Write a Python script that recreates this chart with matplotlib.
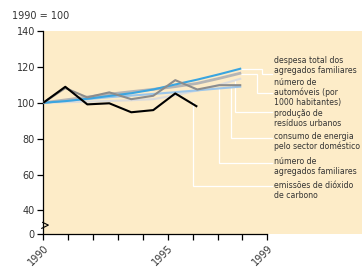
import matplotlib
matplotlib.use("Agg")
import matplotlib.pyplot as plt

# ---- data ----
years = [1990, 1991, 1992, 1993, 1994, 1995, 1996, 1997, 1998, 1999]
despesa = [100, 100.9, 102.2, 103.8, 105.3, 107.4, 110.2, 112.9, 115.9, 119.1]
automoveis = [100, 101.6, 103.2, 104.8, 106.2, 107.5, 109.0, 110.8, 113.6, 116.6]
residuos = [100, 100.3, 100.6, 101.0, 101.4, 102.0, 104.2, 106.8, 110.0, 113.5]
consumo = [100, 108.2, 103.0, 105.8, 102.0, 103.9, 112.6, 107.4, 109.8, 109.8]
agregados = [100, 101.1, 102.0, 103.1, 104.0, 104.9, 105.9, 106.9, 108.0, 109.0]
co2_years = [1990, 1991, 1992, 1993, 1994, 1995, 1996, 1997]
co2 = [100, 108.9, 99.1, 99.7, 94.7, 95.9, 105.2, 97.8]

tick_years = [1990, 1991, 1992, 1993, 1994, 1995, 1996, 1997, 1998, 1999]
tick_labels = ["1990", "", "", "", "", "1995", "", "", "", "1999"]
ytick_vals = [40, 60, 80, 100, 120, 140]
ytick_labels = ["0", "40", "60", "80", "100", "120", "140"]

labels = ["despesa total dos\nagregados familiares",
          "número de\nautomóveis (por\n1000 habitantes)",
          "produção de\nresíduos urbanos",
          "consumo de energia\npelo sector doméstico",
          "número de\nagregados familiares",
          "emissões de dióxido\nde carbono"]

# ---- style / layout ----
BG = "#fdecc8"
TXT = "#333333"
zero_pos = 27.0          # position of the "0" tick (broken axis)
tick_scale = 1.1318      # tick spacing relative to data spacing (as in original)

fig = plt.figure(figsize=(3.62, 2.72), dpi=100)
ax = fig.add_axes([0.1196, 0.1408, 0.8804, 0.7452])
ax.set_facecolor(BG)
ax.set_xlim(1990, 2004.49)
ax.set_ylim(zero_pos, 140)

lw = 1.5
ax.plot(years, residuos, color="#dcdcdc", lw=lw, zorder=3, solid_capstyle="butt")
ax.plot(years, agregados, color="#9cc6ea", lw=lw, zorder=3, solid_capstyle="butt")
ax.plot(years, automoveis, color="#b5b5b5", lw=2.0, zorder=3, solid_capstyle="butt")
ax.plot(years, despesa, color="#3aa5e0", lw=lw, zorder=4, solid_capstyle="butt")
ax.plot(years, consumo, color="#8c8c8c", lw=lw, zorder=5, solid_capstyle="butt")
ax.plot(co2_years, co2, color="black", lw=lw, zorder=6, solid_capstyle="butt")

# leader lines (white) : (anchor x, anchor y, elbow x, leader y)
lab_x_end = 2000.38
text_x = 2000.5
anchors = [
    (1999, 118.7, 1999.93, 116.3),
    (1999, automoveis[-1] - 0.3, 1999.70, 105.2),
    (1998.71, 112.6, 1998.71, 95.0),
    (1998.52, 109.8, 1998.52, 80.2),
    (1998.0, agregados[8], 1998.0, 66.3),
    (1996.82, 100.2, 1996.82, 53.7),
]
text_y = [120.9, 105.7, 91.1, 78.5, 64.3, 51.1]
for (ax0, ay0, ex, ly), lab, ty in zip(anchors, labels, text_y):
    ax.plot([ax0, ex, ex, lab_x_end], [ay0, ay0, ly, ly], color="white",
            lw=0.9, zorder=2, solid_joinstyle="miter")
    ax.text(text_x, ty, lab, fontsize=5.6, color=TXT, va="center", ha="left",
            linespacing=1.12, zorder=7)

# axes styling
for s in ["top", "right"]:
    ax.spines[s].set_visible(False)
ax.spines["left"].set_linewidth(0.9)
ax.spines["bottom"].set_linewidth(0.9)
tick_pos = [1990 + (y - 1990) * tick_scale for y in tick_years]
ax.spines["bottom"].set_bounds(1990, tick_pos[-1])
ax.set_xticks(tick_pos)
ax.set_xticklabels(tick_labels, rotation=45, ha="right", va="top",
                   rotation_mode="anchor", fontsize=7, color=TXT)
ax.set_yticks([zero_pos] + ytick_vals)
ax.set_yticklabels(ytick_labels, fontsize=7, color=TXT)
ax.tick_params(axis="x", length=4, width=0.9, pad=3)
ax.tick_params(axis="y", length=4, width=0.9, pad=2)

# axis break symbol
ax.plot([1989.97, 1990.23, 1989.93], [33.3, 31.8, 30.0], color="black",
        lw=0.8, clip_on=False, zorder=8)

fig.text(0.033, 0.94, "1990 = 100", fontsize=7, color=TXT, va="center", ha="left")

fig.savefig("out.png", dpi=100)
